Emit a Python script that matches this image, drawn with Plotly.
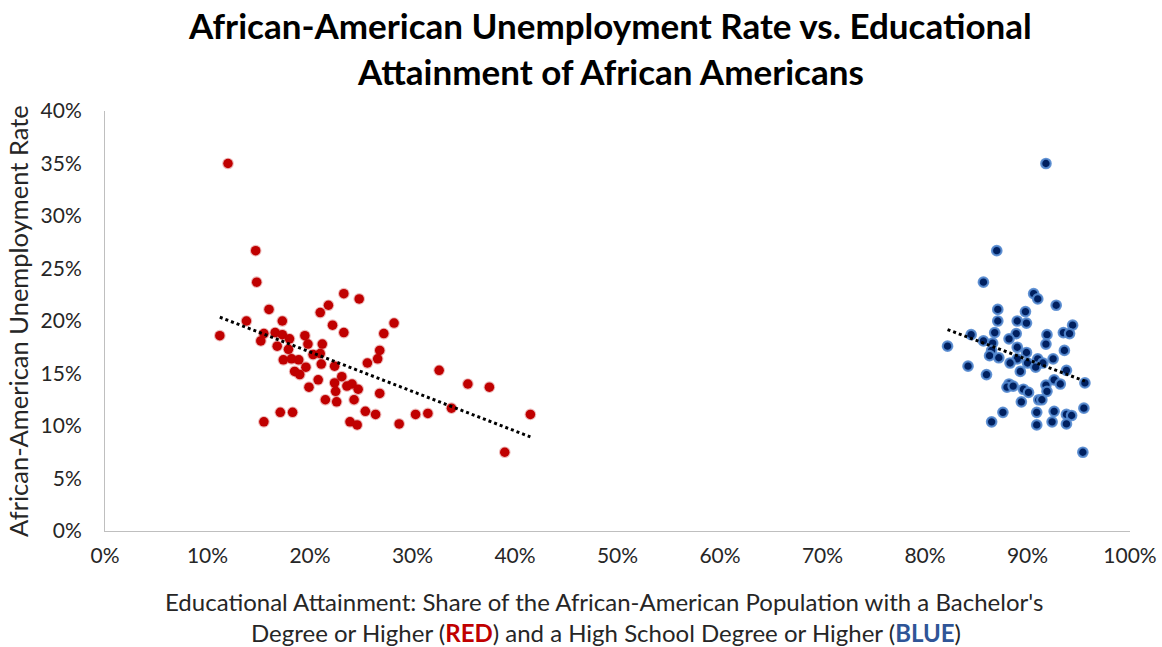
import numpy as np
import plotly.graph_objects as go

# Share with a bachelor's degree or higher (%) and unemployment rate (%)
red_x = [12.0, 14.7, 14.8, 23.3, 24.8, 16.0, 21.8, 21.0, 13.8, 17.3, 22.2, 28.2,
         23.3, 11.2, 15.5, 16.6, 17.3, 27.2, 15.2, 18.0, 19.5, 16.8, 17.9, 19.8,
         21.2, 26.8, 20.3, 21.0, 17.4, 18.2, 18.9, 26.6, 21.1, 22.4, 25.6, 19.6,
         18.5, 19.0, 32.6, 20.8, 23.1, 22.4, 24.1, 23.6, 19.9, 24.7, 35.4, 37.5,
         22.5, 26.8, 21.5, 22.6, 24.3, 33.8, 25.4, 17.1, 18.3, 26.4, 30.3, 31.5,
         41.5, 15.5, 23.9, 24.6, 28.7, 39.0]
red_y = [35.0, 26.7, 23.7, 22.6, 22.1, 21.1, 21.5, 20.8, 20.0, 20.0, 19.6, 19.8,
         18.9, 18.6, 18.8, 18.9, 18.7, 18.8, 18.1, 18.3, 18.6, 17.6, 17.3, 17.8,
         17.8, 17.2, 16.8, 16.9, 16.3, 16.4, 16.3, 16.4, 15.9, 15.7, 16.0, 15.6,
         15.2, 14.9, 15.3, 14.4, 14.7, 14.1, 14.0, 13.8, 13.7, 13.5, 14.0, 13.7,
         13.3, 13.1, 12.5, 12.3, 12.5, 11.7, 11.4, 11.3, 11.3, 11.1, 11.1, 11.2,
         11.1, 10.4, 10.4, 10.1, 10.2, 7.5]

# Share with a high school degree or higher (%) and unemployment rate (%)
blue_x = [91.8, 87.0, 85.7, 90.6, 91.0, 92.8, 87.1, 89.8, 87.1, 89.0, 89.9, 94.4,
          93.5, 94.1, 91.9, 84.5, 86.8, 88.9, 82.2, 85.7, 86.6, 88.2, 91.8, 86.5,
          89.0, 93.6, 86.3, 87.2, 89.9, 89.0, 88.3, 91.0, 91.5, 92.5, 90.0, 90.8,
          89.3, 93.8, 84.2, 86.0, 92.6, 93.2, 95.6, 91.8, 88.2, 88.0, 88.6, 89.6,
          90.1, 91.9, 89.4, 91.1, 91.4, 87.6, 90.9, 92.6, 93.8, 94.3, 95.5, 86.5,
          90.9, 92.4, 93.8, 95.4]
blue_y = [35.0, 26.7, 23.7, 22.6, 22.1, 21.5, 21.1, 20.9, 20.0, 20.0, 19.8, 19.6,
          18.9, 18.8, 18.7, 18.7, 18.9, 18.8, 17.6, 18.1, 17.9, 18.3, 17.8, 17.2,
          17.5, 17.2, 16.7, 16.5, 17.0, 16.4, 16.0, 16.4, 16.0, 16.4, 16.0, 15.6,
          15.2, 15.3, 15.7, 14.9, 14.4, 14.0, 14.1, 13.9, 14.0, 13.7, 13.8, 13.5,
          13.2, 13.3, 12.3, 12.5, 12.5, 11.3, 11.3, 11.4, 11.1, 11.0, 11.7, 10.4,
          10.1, 10.4, 10.2, 7.5]

x_ticks = [0, 10, 20, 30, 40, 50, 60, 70, 80, 90, 100]
y_ticks = [0, 5, 10, 15, 20, 25, 30, 35, 40]

title_lines = ["African-American Unemployment Rate vs. Educational",
               "Attainment of African Americans"]
y_label = "African-American Unemployment Rate"

RED = "#C00000"
NAVY = "#002060"
BLUE_TXT = "#2F5597"
TXT = "#262626"
FONT = "Lato"

# x-axis title: second line is indented under the first
indent = "&nbsp;" * 14
x_label = (
    "Educational Attainment: Share of the African-American Population with a Bachelor's<br>"
    f"{indent}Degree or Higher (<b><span style='color:{RED}'>RED</span></b>) and a High School "
    f"Degree or Higher (<b><span style='color:{BLUE_TXT}'>BLUE</span></b>)"
)


def pct(v):
    return [a / 100 for a in v]


def trend(xs, ys):
    xa, ya = np.array(pct(xs)), np.array(pct(ys))
    m, b = np.polyfit(xa, ya, 1)
    xr = np.array([xa.min(), xa.max()])
    return xr, m * xr + b


fig = go.Figure()

fig.add_trace(go.Scatter(
    x=pct(red_x), y=pct(red_y), mode="markers",
    marker=dict(color=RED, size=9.5, line=dict(color="rgba(192,0,0,0.28)", width=2.2)),
    showlegend=False, hoverinfo="skip"))
fig.add_trace(go.Scatter(
    x=pct(blue_x), y=pct(blue_y), mode="markers",
    marker=dict(color=NAVY, size=9.5, line=dict(color="rgba(84,138,208,0.9)", width=2.2)),
    showlegend=False, hoverinfo="skip"))

for xs, ys in ((red_x, red_y), (blue_x, blue_y)):
    tx, ty = trend(xs, ys)
    fig.add_trace(go.Scatter(
        x=tx, y=ty, mode="lines",
        line=dict(color="black", width=3, dash="dot"),
        showlegend=False, hoverinfo="skip"))

annotations = []
# chart title, two centred lines
for text, yp in zip(title_lines, (1.205, 1.095)):
    annotations.append(dict(
        text=f"<b>{text}</b>", xref="paper", yref="paper", x=0.493, y=yp,
        xanchor="center", yanchor="middle", showarrow=False,
        font=dict(family=FONT, size=35, color="black")))
# x-axis title
annotations.append(dict(
    text=x_label, xref="paper", yref="paper", x=0.0566, y=-0.2048,
    xanchor="left", yanchor="middle", align="left", showarrow=False,
    font=dict(family=FONT, size=24, color=TXT)))
# y-axis title
annotations.append(dict(
    text=y_label, xref="paper", yref="paper", x=-0.0849, y=0.5,
    xanchor="center", yanchor="middle", textangle=-90, showarrow=False,
    font=dict(family=FONT, size=25.5, color=TXT)))

fig.update_layout(
    width=1162, height=647,
    margin=dict(l=105, r=32, t=111, b=116, autoexpand=False),
    paper_bgcolor="white", plot_bgcolor="white",
    font=dict(family=FONT, color=TXT),
    annotations=annotations,
    xaxis=dict(
        range=[0, 1], tickvals=[v / 100 for v in x_ticks],
        ticktext=[f"{v}%" for v in x_ticks], automargin=False,
        showgrid=False, zeroline=False, showline=True, linecolor="#BFBFBF", linewidth=1,
        ticks="", tickfont=dict(size=21, color=TXT), ticklabelstandoff=6),
    yaxis=dict(
        range=[0, 0.4], tickvals=[v / 100 for v in y_ticks],
        ticktext=[f"{v}%" for v in y_ticks], automargin=False,
        showgrid=False, zeroline=False, showline=True, linecolor="#BFBFBF", linewidth=1,
        ticks="", tickfont=dict(size=21, color=TXT), ticklabelstandoff=18),
)

fig.write_html("out.html")
